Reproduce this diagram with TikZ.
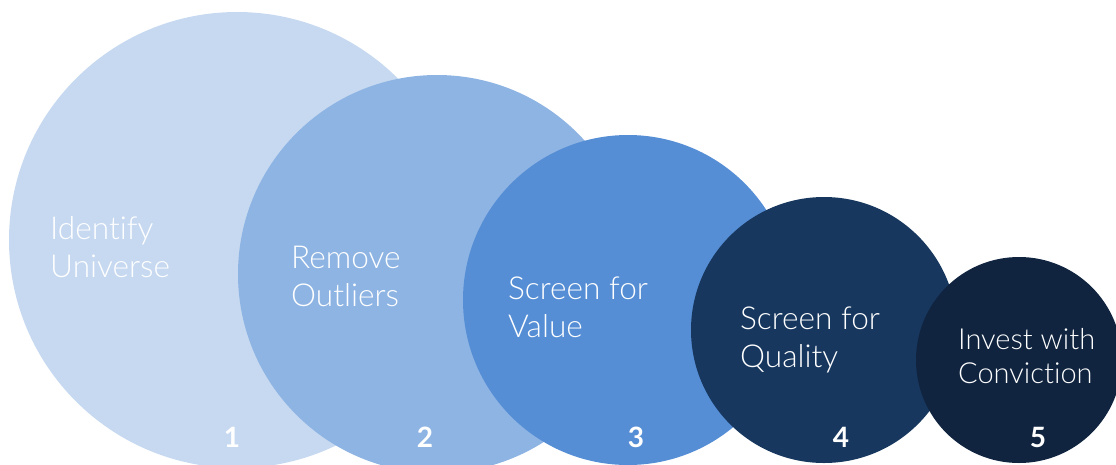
\documentclass[tikz,border=0pt]{standalone}
\usepackage{fontspec}
\setmainfont{Lato}[UprightFont=* Light, BoldFont=* Bold, Ligatures=CommonOff]
\definecolor{cA}{RGB}{198,217,240}
\definecolor{cB}{RGB}{142,180,227}
\definecolor{cC}{RGB}{85,142,213}
\definecolor{cD}{RGB}{23,55,94}
\definecolor{cE}{RGB}{16,36,63}
\tikzset{
  disc/.style={circle, inner sep=0pt, draw=none},
  lbl/.style={anchor=base west, inner sep=0pt, text=white, font=\fontsize{31.6}{31.6}\selectfont},
  lblsm/.style={anchor=base west, inner sep=0pt, text=white, font=\fontsize{29}{29}\selectfont},
  num/.style={anchor=base, inner sep=0pt, text=white, font=\bfseries\fontsize{28}{28}\selectfont}
}
\begin{document}
\begin{tikzpicture}[x=1pt,y=-1pt]
\useasboundingbox (0,0) rectangle (1116,464);
\begin{scope}
\clip (0,0) rectangle (1116,464);
\node[disc, fill=cA, minimum size=456pt] (c1) at (237,240) {};
\node[disc, fill=cB, minimum size=398pt] (c2) at (437,274) {};
\node[disc, fill=cC, minimum size=330pt] (c3) at (628,300) {};
\node[disc, fill=cD, minimum size=266pt] (c4) at (824,330) {};
\node[disc, fill=cE, minimum size=206pt] (c5) at (1019,360) {};
\end{scope}
\node[lbl] (t1a) at (50,239) {Identify};
\node[lbl] (t1b) at (50,277) {Universe};
\node[lbl] (t2a) at (291,268) {Remove};
\node[lbl] (t2b) at (291,306) {Outliers};
\node[lbl] (t3a) at (508,299) {Screen for};
\node[lbl] (t3b) at (508,337) {Value};
\node[lbl] (t4a) at (740,329) {Screen for};
\node[lbl] (t4b) at (740,367) {Quality};
\node[lblsm] (t5a) at (958,349) {Invest with};
\node[lblsm] (t5b) at (958,383) {Conviction};
\node[num] (n1) at (232,447) {1};
\node[num] (n2) at (425,447) {2};
\node[num] (n3) at (636,447) {3};
\node[num] (n4) at (841,447) {4};
\node[num] (n5) at (1038,447) {5};
\end{tikzpicture}
\end{document}
